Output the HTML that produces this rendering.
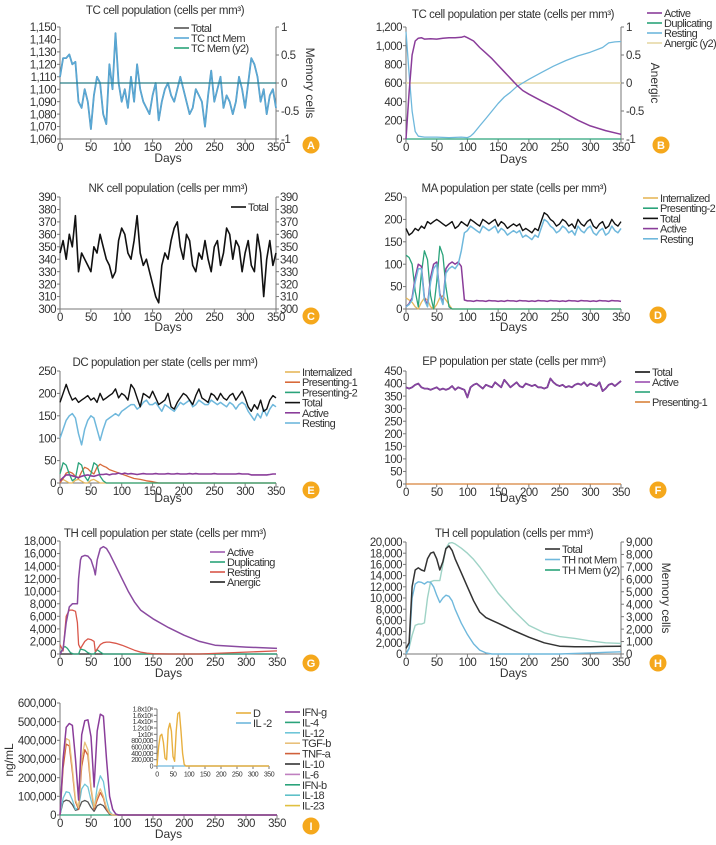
<!DOCTYPE html>
<html><head><meta charset="utf-8">
<style>
html,body{margin:0;padding:0;background:#fff;}
svg{display:block;font-family:"Liberation Sans",sans-serif;}
text{fill:#333;}
</style></head>
<body>
<svg id="root" width="716" height="845" viewBox="0 0 716 845" xmlns="http://www.w3.org/2000/svg"></svg>
<script>
// ---------- DATA ----------
const xTickVals=[0,50,100,150,200,250,300,350];
const d5=[];for(let i=0;i<=70;i++)d5.push(i*5);

// A
const tcNotMem=[1110,1125,1125,1128,1120,1122,1090,1085,1100,1090,
1068,1095,1110,1105,1080,1072,1120,1100,1145,1105,
1090,1100,1085,1110,1090,1120,1100,1090,1085,1080,
1095,1105,1075,1090,1100,1105,1095,1090,1100,1110,
1100,1090,1080,1085,1100,1095,1090,1070,1095,1115,
1090,1100,1110,1085,1095,1090,1080,1090,1110,1100,
1085,1105,1125,1120,1110,1090,1100,1080,1095,1100,1085];
const aYTicks=[1060,1070,1080,1090,1100,1110,1120,1130,1140,1150];
const y2Ticks=[-1,-0.5,0,0.5,1];

// B
const bActiveDays=[0,5,10,15,20,25,30,40,50,60,70,80,90,95,100,110,120,130,140,150,160,170,180,190,200,220,250,280,300,325,350];
const bActive=[0,500,900,1050,1080,1085,1070,1075,1070,1080,1085,1085,1090,1100,1085,1050,980,920,860,790,720,650,580,520,480,410,310,200,140,90,50];
const bRestDays=[0,5,10,15,20,30,50,70,90,100,105,110,120,130,140,150,160,170,180,190,200,220,240,260,280,300,320,330,340,350];
const bRest=[1150,700,300,80,30,20,20,15,20,15,30,60,140,220,300,380,450,500,560,600,640,710,780,840,890,930,980,1030,1040,1045];
const bYTicks=[0,200,400,600,800,1000,1200];

// C
const nkTotal=[345,355,340,360,350,375,330,345,340,335,
330,350,345,360,350,340,335,325,330,355,
365,360,345,340,355,375,345,335,340,330,
320,310,305,335,345,340,355,365,370,350,
340,360,355,335,330,345,340,355,340,330,
350,355,335,345,365,360,340,355,350,330,
345,355,335,330,360,345,310,340,355,335,345];
const cYTicks=[300,310,320,330,340,350,360,370,380,390];

// D
const maTotal=[180,165,170,180,175,185,180,195,190,195,
200,195,190,185,190,195,180,185,195,190,
185,200,195,190,185,200,195,190,195,200,
185,195,190,180,185,190,185,190,175,180,
175,170,180,175,195,215,210,200,195,185,
190,200,195,185,190,180,200,190,185,195,
200,185,180,190,195,180,185,200,190,185,195];
const maResting=[5,10,20,60,90,90,20,5,60,90,100,30,10,80,90,95,90,100,130,170,175,
185,180,175,170,185,180,175,180,185,170,
180,175,165,170,175,170,175,160,165,
160,155,165,160,180,200,195,185,180,170,
175,185,180,170,175,165,185,175,170,180,
185,170,165,175,180,165,170,185,175,170,180];
const maActive=[5,12,25,70,100,95,25,8,70,100,105,35,12,90,100,105,100,105,95,20,18,
18,17,19,18,18,17,19,18,18,17,
18,17,19,18,18,17,19,18,18,17,
18,17,19,18,18,17,19,18,18,17,
18,17,19,18,18,17,19,18,18,17,
18,17,19,18,18,17,19,18,18,17,18];
const maPresDays=[0,5,10,15,20,25,30,35,40,45,50,55,60,65,70,75,350];
const maPres2=[120,115,100,40,5,80,130,110,30,0,60,140,120,50,5,0,0];
const maInt=[25,20,15,5,0,15,25,20,5,0,10,25,30,20,10,0,0];
const dYTicks=[0,50,100,150,200,250];

// E
const dcTotal=[180,200,220,200,185,190,180,185,190,195,
185,190,180,200,185,190,195,200,210,190,
200,195,185,220,210,190,170,200,195,190,
205,190,175,180,185,200,170,165,180,190,
200,195,185,175,195,210,190,185,180,200,
195,185,200,190,185,195,200,185,195,205,
190,170,160,175,165,185,160,165,185,195,190];
const dcResting=[100,120,140,150,155,145,110,85,120,140,
150,145,120,95,120,140,145,150,155,150,
160,165,170,175,175,165,170,180,185,175,
175,180,170,160,175,170,165,160,170,180,
175,180,185,170,175,185,180,175,175,185,
180,175,180,175,170,180,175,165,175,180,
175,160,150,140,155,145,165,150,165,175,170];
const dcActive=[5,12,18,18,16,14,12,15,17,18,
16,15,17,19,19,20,18,20,20,22,
20,22,20,21,20,19,20,21,20,20,
20,21,20,20,20,21,20,20,21,20,
20,20,21,20,21,20,20,20,20,20,
21,20,20,20,20,20,20,20,21,20,
20,20,18,18,18,18,18,18,19,20,20];
const dcP1Days=[0,5,10,15,20,25,30,35,40,45,50,55,60,65,70,75,80,90,100,110,120,130,140,150,160,350];
const dcPres1=[0,10,22,25,22,15,10,25,35,32,25,20,35,42,38,35,30,25,20,15,10,8,5,3,0,0];
const dcP2Days=[0,5,10,15,20,25,30,35,40,45,50,55,60,65,70,75,350];
const dcPres2=[20,45,40,20,5,10,45,40,15,5,20,45,40,15,5,0,0];
const dcInt=[10,8,4,0,0,6,8,4,0,0,6,8,4,0,0,0,0];

// F
const epTotal=[385,380,385,395,400,385,380,380,375,380,
385,375,380,375,380,390,375,385,380,375,
345,385,395,400,390,380,395,390,385,405,
395,385,415,400,385,395,405,390,385,400,
395,390,395,385,385,380,385,420,405,395,
390,395,385,390,385,395,400,395,405,390,
400,395,390,405,370,380,395,400,390,400,410];
const fYTicks=[0,50,100,150,200,250,300,350,400,450];

// G
const gDays=[0,5,10,15,20,25,28,30,33,35,40,45,50,55,57,60,65,70,75,80,90,100,110,120,130,140,150,175,200,225,250,300,350];
const gActive=[0,800,5000,7500,8000,8000,8000,12000,15000,15500,15700,15600,15000,13500,12600,15000,16800,17100,16800,16000,14000,12000,10000,8300,7000,6300,5600,4200,3000,2000,1400,1100,900];
const gResting=[1500,500,6000,7000,7000,6800,5000,1500,900,1200,2000,2400,2300,2000,400,800,1500,1800,1900,1900,1700,1400,1000,600,300,150,50,0,0,0,100,300,500];
const gDupDays=[0,5,8,12,17,22,30,33,40,45,50,55,60,65,70,350];
const gDup=[0,1000,1200,900,200,0,0,800,600,200,0,0,700,300,0,0];
const gYTicks=[0,2000,4000,6000,8000,10000,12000,14000,16000,18000];

// H
const hDays=[0,5,10,15,20,25,30,35,40,45,50,55,60,65,70,75,80,90,100,110,120,130,140,150,175,200,225,250,275,300,325,350];
const hTotal=[1000,2000,12000,15000,15400,15000,14800,17000,18000,18200,17000,15000,16500,18800,19300,18500,17000,14500,12000,9500,7500,6500,6000,5500,4200,3000,2000,1400,1300,1300,1350,1400];
const hNotMem=[0,1000,10000,12500,12900,12800,12500,12900,12800,12000,10500,9200,10000,10500,10300,9500,8000,5500,3500,1800,700,200,0,0,0,0,0,0,100,200,300,400];
const hMem=[0,500,1500,2300,2400,2400,2500,4500,5800,5900,5900,5900,7200,8500,8900,8950,8850,8500,8100,7600,7000,6300,5600,4900,3500,2300,1700,1400,1250,1050,900,850];
const hYTicks=[0,2000,4000,6000,8000,10000,12000,14000,16000,18000,20000];
const hY2Ticks=[0,1000,2000,3000,4000,5000,6000,7000,8000,9000];

// I
const iDays=[0,5,10,15,20,25,30,35,40,45,50,55,60,65,70,75,80,85,90,95,100,350];
const ifng=[0,300000,470000,490000,480000,300000,80000,430000,505000,510000,420000,150000,450000,540000,530000,300000,100000,30000,5000,0,0,0];
const tgfb=[0,300000,410000,400000,250000,80000,40000,300000,390000,350000,150000,40000,100000,140000,100000,40000,10000,0,0,0,0,0];
const tnfa=[0,250000,380000,370000,230000,70000,30000,260000,350000,320000,140000,30000,80000,120000,90000,30000,8000,0,0,0,0,0];
const il12=[0,90000,125000,120000,80000,30000,40000,140000,165000,150000,80000,30000,150000,210000,180000,80000,20000,0,0,0,0,0];
const il10=[0,70000,80000,75000,55000,25000,30000,70000,78000,70000,40000,20000,50000,58000,50000,25000,5000,0,0,0,0,0];
const flatDays=[0,350];
const flatZero=[0,0];
const insetD=[0,600000,950000,1000000,750000,250000,200000,1150000,1350000,1100000,300000,150000,1100000,1650000,1700000,1100000,400000,50000,0,0,0,0];
const iYTicks=[0,100000,200000,300000,400000,500000,600000];
const insetYTicks=[0,200000,400000,600000,800000,1000000,1200000,1400000,1600000,1800000];
const insetYLabels=["0","200,000","400,000","600,000","800,000","1x10⁶","1.2x10⁶","1.4x10⁶","1.6x10⁶","1.8x10⁶"];

// ---------- DRAWING ----------
const NS="http://www.w3.org/2000/svg";
const svg=document.getElementById('root');
function mk(tag,a,p){const e=document.createElementNS(NS,tag);for(const k in a)e.setAttribute(k,a[k]);p.appendChild(e);return e;}
function fmt(v){const s=String(Math.abs(v));const t=s.replace(/\B(?=(\d{3})+(?!\d))/g,",");return (v<0?"-":"")+t;}
const AX="#777";

function panel(c){
  const g=mk('g',{},svg);
  
  
  const fs=c.fs||11.5;
  const sx=v=>c.x0+v/350*(c.x1-c.x0);
  const sy=v=>c.yb-(v-c.ymin)/(c.ymax-c.ymin)*(c.yb-c.yt);
  const sy2=c.y2?(v=>c.yb-(v-c.y2min)/(c.y2max-c.y2min)*(c.yb-c.yt)):null;
  const ax=mk('path',{d:`M${c.x0},${c.yt}V${c.yb}H${c.x1}`+(c.y2||c.rightAxis?`V${c.yt}`:''),fill:'none',stroke:AX,'stroke-width':1},g);
  
  
  c.yticks.forEach((v,i)=>{
    const y=sy(v);
    mk('line',{x1:c.x0-3,x2:c.x0,y1:y,y2:y,stroke:AX},g);
    const t=mk('text',{x:c.x0-4,y:y+fs*0.36,'text-anchor':'end','font-size':fs,'letter-spacing':-0.5},g);
    
    
    t.textContent=c.ylabels?c.ylabels[i]:fmt(v);
    if(c.rightAxis){
      mk('line',{x1:c.x1,x2:c.x1+3,y1:y,y2:y,stroke:AX},g);
      const t2=mk('text',{x:c.x1+4,y:y+fs*0.36,'font-size':fs,'letter-spacing':-0.5},g);
      
      
      t2.textContent=fmt(v);
    }
  });
  if(c.y2){
    c.y2ticks.forEach(v=>{
      const y=sy2(v);
      mk('line',{x1:c.x1,x2:c.x1+3,y1:y,y2:y,stroke:AX},g);
      const t=mk('text',{x:c.x1+5,y:y+fs*0.36,'font-size':fs,'letter-spacing':-0.5},g);
      
      
      t.textContent=fmt(v);
    });
  }
  xTickVals.forEach(v=>{
    const x=sx(v);
    mk('line',{x1:x,x2:x,y1:c.yb,y2:c.yb+3,stroke:AX},g);
    const t=mk('text',{x:x,y:c.yb+fs*0.36+8,'text-anchor':'middle','font-size':fs,'letter-spacing':-0.5},g);
    
    
    t.textContent=v;
  });
  c.series.forEach(s=>{
    const n=Math.min(s.xs.length,s.ys.length);
    const f=s.y2?sy2:sy;
    let d='';
    for(let i=0;i<n;i++)d+=(i?'L':'M')+sx(s.xs[i]).toFixed(1)+','+f(s.ys[i]).toFixed(1);
    const p=mk('path',{d:d,fill:'none',stroke:s.color,'stroke-width':s.w||1.3,'stroke-linejoin':'round'},g);
    
    
  });
  if(c.title){
    const t=mk('text',{x:c.tx,y:c.ty,'text-anchor':'middle','font-size':11.5,'letter-spacing':-0.4},g);
    
    
    t.textContent=c.title;
  }
  if(c.daysY){
    const t=mk('text',{x:(c.x0+c.x1)/2,y:c.daysY,'text-anchor':'middle','font-size':12},g);
    
    
    t.textContent='Days';
  }
  if(c.y2label){
    const t=mk('text',{x:c.y2lx,y:c.y2ly,'text-anchor':'middle','font-size':12,transform:`rotate(90 ${c.y2lx} ${c.y2ly})`},g);
    
    
    t.textContent=c.y2label;
  }
  if(c.ylabel){
    const t=mk('text',{x:c.ylx,y:c.yly,'text-anchor':'middle','font-size':12,transform:`rotate(-90 ${c.ylx} ${c.yly})`},g);
    
    
    t.textContent=c.ylabel;
  }
  if(c.legend){
    const L=c.legend;
    L.items.forEach((it,i)=>{
      const y=L.y+i*L.step;
      const ln=mk('line',{x1:L.x,x2:L.x+15,y1:y,y2:y,stroke:it.color,'stroke-width':1.6},g);
      
      
      const t=mk('text',{x:L.x+17,y:y+4,'font-size':L.fs||11,'letter-spacing':-0.6},g);
      
      
      t.textContent=it.label;
    });
  }
  if(c.badge){
    const b=mk('circle',{cx:c.badge[0],cy:c.badge[1],r:8.5,fill:'#f5a81c'},g);
    
    
    const t=mk('text',{x:c.badge[0],y:c.badge[1]+4,'text-anchor':'middle','font-size':11,'font-weight':'bold',style:'fill:#fff'},g);
    
    
    t.textContent=c.badge[2];
  }
}

const PUR="#8a3d9a",TEAL="#2aa37a",LBLUE="#6fb8dc",ANER="#e6d8a6";

panel({name:'panel-a',x0:60,x1:276,yt:27,yb:139,ymin:1060,ymax:1150,yticks:aYTicks,
  y2:true,y2min:-1,y2max:1,y2ticks:y2Ticks,y2label:'Memory cells',y2lx:306,y2ly:83,
  title:'TC cell population (cells per mm³)',tx:165,ty:14,daysY:162,badge:[311,145,'A'],
  legend:{x:174,y:28,step:10,items:[{label:'Total',color:'#555'},{label:'TC nct Mem',color:'#5aa9d6'},{label:'TC Mem (y2)',color:TEAL}]},
  series:[{name:'tc-total-line',xs:d5,ys:tcNotMem,color:'#4f8fb5',w:1.8},{name:'tc-not-mem-line',xs:d5,ys:tcNotMem,color:'#5aa9d6',w:1.3},
    {name:'tc-mem-line',xs:flatDays,ys:flatZero,color:'#2b7f86',y2:true,w:1.2}]});

panel({name:'panel-b',x0:406,x1:621,yt:27,yb:139,ymin:0,ymax:1200,yticks:bYTicks,
  y2:true,y2min:-1,y2max:1,y2ticks:y2Ticks,y2label:'Anergic',y2lx:651,y2ly:83,
  title:'TC cell population per state (cells per mm³)',tx:513,ty:18,daysY:163,badge:[661,145,'B'],
  legend:{x:647,y:13,step:10,items:[{label:'Active',color:PUR},{label:'Duplicating',color:TEAL},{label:'Resting',color:LBLUE},{label:'Anergic (y2)',color:ANER}]},
  series:[{name:'anergic-line',xs:flatDays,ys:flatZero,color:ANER,y2:true,w:1.6},
    {name:'resting-line',xs:bRestDays,ys:bRest,color:LBLUE},
    {name:'duplicating-line',xs:flatDays,ys:flatZero,color:TEAL},
    {name:'active-line',xs:bActiveDays,ys:bActive,color:PUR,w:1.5}]});

panel({name:'panel-c',x0:60,x1:276,yt:197,yb:309,ymin:300,ymax:390,yticks:cYTicks,rightAxis:true,
  title:'NK cell population (cells per mm³)',tx:168,ty:192,daysY:331,badge:[311,316,'C'],
  legend:{x:231,y:207,step:10,items:[{label:'Total',color:'#111'}]},
  series:[{name:'nk-total-line',xs:d5,ys:nkTotal,color:'#111',w:1.6}]});

panel({name:'panel-d',x0:406,x1:621,yt:197,yb:309,ymin:0,ymax:250,yticks:dYTicks,
  title:'MA population per state (cells per mm³)',tx:514,ty:192,daysY:331,badge:[658,315,'D'],
  legend:{x:643,y:198,step:10.2,items:[{label:'Internalized',color:'#e6b85c'},{label:'Presenting-2',color:TEAL},{label:'Total',color:'#111'},{label:'Active',color:PUR},{label:'Resting',color:LBLUE}]},
  series:[{name:'internalized-line',xs:maPresDays,ys:maInt,color:'#e6b85c'},
    {name:'presenting-2-line',xs:maPresDays,ys:maPres2,color:TEAL},
    {name:'active-line',xs:d5,ys:maActive,color:PUR,w:1.5},
    {name:'resting-line',xs:d5,ys:maResting,color:LBLUE,w:1.5},
    {name:'total-line',xs:d5,ys:maTotal,color:'#111',w:1.4}]});

panel({name:'panel-e',x0:60,x1:276,yt:371,yb:483,ymin:0,ymax:250,yticks:dYTicks,
  title:'DC population per state (cells per mm³)',tx:165,ty:366,daysY:502,badge:[311,490,'E'],
  legend:{x:285,y:372,step:10.2,items:[{label:'Internalized',color:'#e6b85c'},{label:'Presenting-1',color:'#d86a3a'},{label:'Presenting-2',color:TEAL},{label:'Total',color:'#111'},{label:'Active',color:PUR},{label:'Resting',color:LBLUE}]},
  series:[{name:'internalized-line',xs:dcP2Days,ys:dcInt,color:'#e6b85c'},
    {name:'presenting-1-line',xs:dcP1Days,ys:dcPres1,color:'#d86a3a'},
    {name:'presenting-2-line',xs:dcP2Days,ys:dcPres2,color:TEAL},
    {name:'active-line',xs:d5,ys:dcActive,color:PUR,w:1.6},
    {name:'resting-line',xs:d5,ys:dcResting,color:LBLUE,w:1.5},
    {name:'total-line',xs:d5,ys:dcTotal,color:'#111',w:1.4}]});

panel({name:'panel-f',x0:406,x1:621,yt:371,yb:484,ymin:0,ymax:450,yticks:fYTicks,
  title:'EP population per state (cells per mm³)',tx:514,ty:365,daysY:502,badge:[658,490,'F'],
  legend:{x:635,y:372,step:10,items:[{label:'Total',color:'#111'},{label:'Active',color:'#9b4fb0'},{label:'',color:TEAL},{label:'Presenting-1',color:'#d8823a'}]},
  series:[{name:'total-line',xs:d5,ys:epTotal,color:'#5a2a70',w:1.8},{name:'active-line',xs:d5,ys:epTotal,color:'#8a45a5',w:1.3},
    {name:'presenting-1-line',xs:flatDays,ys:flatZero,color:'#d8823a'}]});

panel({name:'panel-g',x0:60,x1:277,yt:541,yb:654,ymin:0,ymax:18000,yticks:gYTicks,
  title:'TH cell population per state (cells per mm³)',tx:165,ty:537,daysY:677,badge:[311,663,'G'],
  legend:{x:210,y:552,step:10,items:[{label:'Active',color:'#a05cb0'},{label:'Duplicating',color:TEAL},{label:'Resting',color:'#d9574a'},{label:'Anergic',color:'#222'}]},
  series:[{name:'anergic-line',xs:flatDays,ys:flatZero,color:'#222'},
    {name:'duplicating-line',xs:gDupDays,ys:gDup,color:TEAL},
    {name:'resting-line',xs:gDays,ys:gResting,color:'#d9574a'},
    {name:'active-line',xs:gDays,ys:gActive,color:'#8a4aa0',w:1.5}]});

panel({name:'panel-h',x0:406,x1:621,yt:542,yb:654,ymin:0,ymax:20000,yticks:hYTicks,
  y2:true,y2min:0,y2max:9000,y2ticks:hY2Ticks,y2label:'Memory cells',y2lx:662,y2ly:598,
  title:'TH cell population (cells per mm³)',tx:514,ty:537,daysY:677,badge:[658,663,'H'],
  legend:{x:545,y:549,step:10.5,items:[{label:'Total',color:'#333'},{label:'TH not Mem',color:LBLUE},{label:'TH Mem (y2)',color:TEAL}]},
  series:[{name:'th-mem-line',xs:hDays,ys:hMem,color:'#9fd3c6',y2:true,w:1.4},
    {name:'th-not-mem-line',xs:hDays,ys:hNotMem,color:LBLUE,w:1.4},
    {name:'th-total-line',xs:hDays,ys:hTotal,color:'#333',w:1.5}]});

panel({name:'panel-i',x0:60,x1:277,yt:703,yb:815,ymin:0,ymax:600000,yticks:iYTicks,
  ylabel:'ng/mL',ylx:13,yly:760,daysY:838,badge:[311,826,'I'],
  legend:{x:285,y:712,step:10.4,items:[{label:'IFN-g',color:PUR},{label:'IL-4',color:TEAL},{label:'IL-12',color:'#6fc6d8'},{label:'TGF-b',color:'#e8c07a'},{label:'TNF-a',color:'#d0603a'},{label:'IL-10',color:'#333'},{label:'IL-6',color:'#c080c0'},{label:'IFN-b',color:TEAL},{label:'IL-18',color:'#5fc0c8'},{label:'IL-23',color:'#e0c040'}]},
  series:[{name:'il-4-line',xs:flatDays,ys:flatZero,color:TEAL},
    {name:'il-10-line',xs:iDays,ys:il10,color:'#555'},
    {name:'il-12-line',xs:iDays,ys:il12,color:'#6fc6d8'},
    {name:'tnf-a-line',xs:iDays,ys:tnfa,color:'#d0603a'},
    {name:'tgf-b-line',xs:iDays,ys:tgfb,color:'#e8c07a'},
    {name:'ifn-g-line',xs:iDays,ys:ifng,color:PUR,w:1.5}]});

panel({name:'panel-i-inset',x0:157,x1:269,yt:709,yb:766,ymin:0,ymax:1800000,yticks:insetYTicks,ylabels:insetYLabels,fs:7,
  legend:{x:236,y:713,step:10,fs:11,items:[{label:'D',color:'#e8b040'},{label:'IL -2',color:LBLUE}]},
  series:[{name:'il-2-line',xs:flatDays,ys:flatZero,color:LBLUE},
    {name:'d-line',xs:iDays,ys:insetD,color:'#e8b040',w:1.4}]});
</script>
</body></html>
